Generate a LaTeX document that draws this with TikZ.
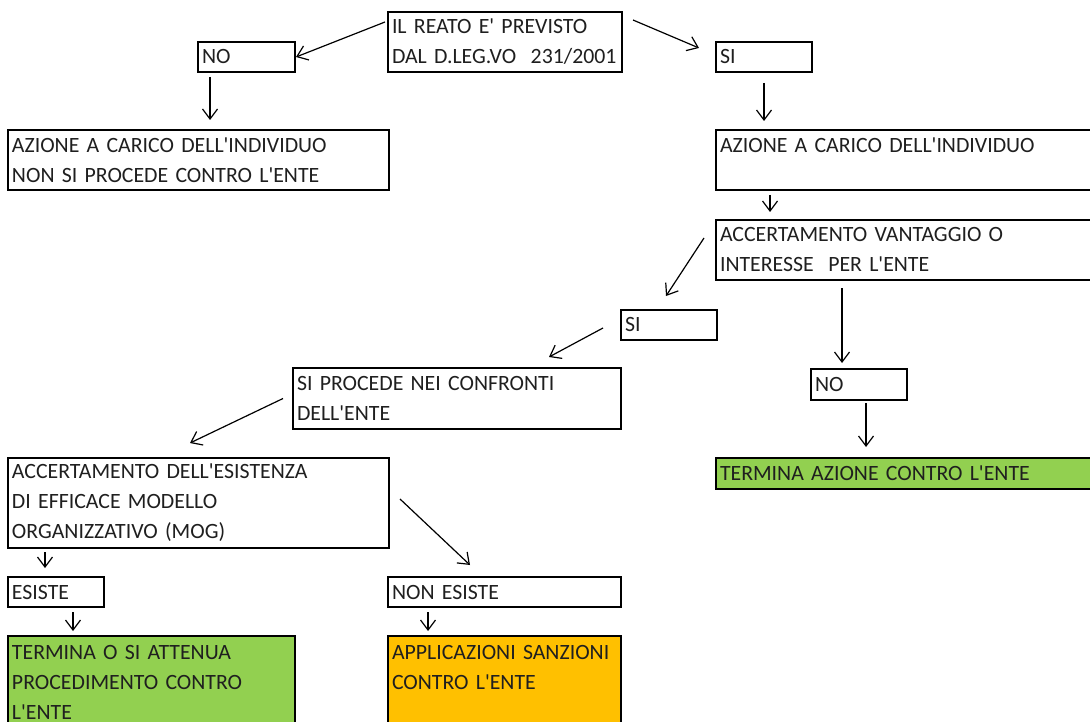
\documentclass[tikz,border=0pt]{standalone}
\usepackage{fontspec}
\setmainfont{Carlito}[Ligatures=TeXOff]
\usetikzlibrary{arrows.meta}

\definecolor{okgreen}{HTML}{92D050}
\definecolor{warnorange}{HTML}{FFC000}

\begin{document}
\begin{tikzpicture}[
  x=1pt, y=-1pt,
  font=\fontsize{21.8}{30}\selectfont,
  box/.style={
    draw,
    line width=1.6pt,
    anchor=north west,
    align=left,
    inner xsep=4pt,
    inner ysep=0pt,
    outer sep=0pt,
    text=black!88,
    fill=white
  },
  greenbox/.style={box, fill=okgreen},
  orangebox/.style={box, fill=warnorange},
  arr/.style={-{Straight Barb[length=10pt,width=15pt]}, line width=1.2pt}
]

\clip (0,0) rectangle (1090,722);
\fill[white] (0,0) rectangle (1090,722);

% Start
\node[box, text width=226pt, minimum height=60pt] (reato) at (388,12) {%
  IL REATO E' PREVISTO\\
  DAL D.LEG.VO\ \ 231/2001
};

% First split
\node[box, text width=89pt, minimum height=30pt] (noA) at (198,42) {NO};
\node[box, text width=88pt, minimum height=30pt] (siA) at (716,42) {SI};

\node[box, text width=373pt, minimum height=60pt] (azioneNo) at (8,130) {%
  AZIONE A CARICO DELL'INDIVIDUO\\
  NON SI PROCEDE CONTRO L'ENTE
};
\node[box, text width=372pt, minimum height=60pt] (azioneSi) at (716,130) {%
  AZIONE A CARICO DELL'INDIVIDUO\\
  \mbox{}
};

\node[box, text width=372pt, minimum height=60pt] (vantaggio) at (716,220) {%
  ACCERTAMENTO VANTAGGIO O\\
  INTERESSE\ \ PER L'ENTE
};

% Second split
\node[box, text width=88pt, minimum height=30pt] (siB) at (621,310) {SI};
\node[box, text width=88pt, minimum height=31pt] (noB) at (811,369) {NO};

\node[box, text width=320pt, minimum height=61pt] (procede) at (293,368) {%
  SI PROCEDE NEI CONFRONTI\\
  DELL'ENTE
};
\node[greenbox, text width=372pt, minimum height=31pt] (terminaAz) at (716,458) {%
  TERMINA AZIONE CONTRO L'ENTE
};

% MOG check
\node[box, text width=373pt, minimum height=90pt] (mog) at (8,458) {%
  ACCERTAMENTO DELL'ESISTENZA\\
  DI EFFICACE MODELLO\\
  ORGANIZZATIVO (MOG)
};
\node[box, text width=88pt, minimum height=30pt] (esiste) at (8,577) {ESISTE};
\node[box, text width=225pt, minimum height=30pt] (nonEsiste) at (388,577) {NON ESISTE};

\node[greenbox, text width=279pt, minimum height=92pt] (attenua) at (8,636) {%
  TERMINA O SI ATTENUA\\
  PROCEDIMENTO CONTRO\\
  L'ENTE
};
\node[orangebox, text width=225pt, minimum height=92pt] (sanzioni) at (388,636) {%
  APPLICAZIONI SANZIONI\\
  CONTRO L'ENTE\\
  \mbox{}
};

% Arrows
\draw[arr] ([shift={(-3,10)}]reato.north west) -- ([shift={(1,0)}]noA.east);
\draw[arr] ([shift={(11,8)}]reato.north east) -- ([shift={(-17,6)}]siA.north west);
\draw[arr] ([shift={(12,5)}]noA.south west) -- ([shift={(202,-10)}]azioneNo.north west);
\draw[arr] ([shift={(48,11)}]siA.south west) -- ([shift={(48,-9)}]azioneSi.north west);
\draw[arr] ([shift={(54,5)}]azioneSi.south west) -- ([shift={(54,-8)}]vantaggio.north west);
\draw[arr] ([shift={(-12,18)}]vantaggio.north west) -- ([shift={(45,-14)}]siB.north west);
\draw[arr] ([shift={(126,8)}]vantaggio.south west) -- ([shift={(31,-6)}]noB.north west);
\draw[arr] ([shift={(-18,3)}]siB.west) -- ([shift={(-72,-11)}]procede.north east);
\draw[arr] ([shift={(55,3)}]noB.south west) -- ([shift={(150,-11)}]terminaAz.north west);
\draw[arr] ([shift={(-10,0)}]procede.west) -- ([shift={(182,-15)}]mog.north west);
\draw[arr] ([shift={(11,-4)}]mog.east) -- ([shift={(82,-12)}]nonEsiste.north west);
\draw[arr] ([shift={(37,4)}]mog.south west) -- ([shift={(37,-9)}]esiste.north west);
\draw[arr] ([shift={(65,5)}]esiste.south west) -- ([shift={(65,-5)}]attenua.north west);
\draw[arr] ([shift={(40,5)}]nonEsiste.south west) -- ([shift={(40,-5)}]sanzioni.north west);

\end{tikzpicture}
\end{document}
